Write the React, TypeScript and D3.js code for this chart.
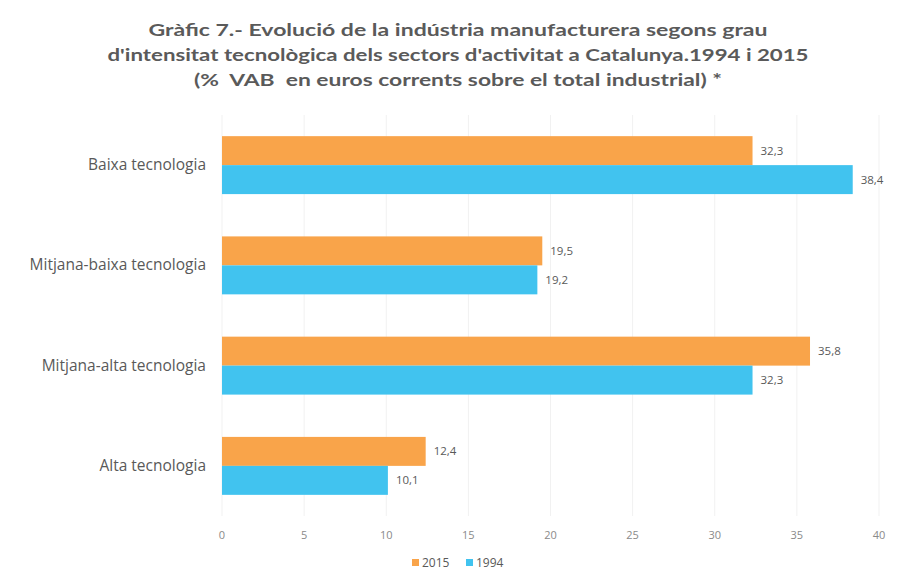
import { useEffect, useRef } from "react";
import * as d3 from "d3";

const titleLines = [
  "Gràfic 7.- Evolució de la indústria manufacturera segons grau",
  "d'intensitat tecnològica dels sectors d'activitat a Catalunya.1994 i 2015",
  "(%  VAB  en euros corrents sobre el total industrial) *",
];
const categories = [
  "Baixa tecnologia",
  "Mitjana-baixa tecnologia",
  "Mitjana-alta tecnologia",
  "Alta tecnologia",
];
const seriesNames = ["2015", "1994"];
const values2015 = [32.3, 19.5, 35.8, 12.4];
const values1994 = [38.4, 19.2, 32.3, 10.1];
const xTicks = [0, 5, 10, 15, 20, 25, 30, 35, 40];

const colors: Record<string, string> = { "2015": "#F9A44A", "1994": "#41C3EF" };
const font = "Lato, 'Open Sans', sans-serif";
const labelFont = "'Open Sans', sans-serif";

const App = () => {
  const svgRef = useRef<SVGSVGElement>(null);

  useEffect(() => {
    const svg = d3.select(svgRef.current);
    svg.selectAll("*").remove();

    const data = categories.map((c, i) => ({
      cat: c,
      vals: [
        { key: "2015", v: values2015[i] },
        { key: "1994", v: values1994[i] },
      ],
    }));

    const x = d3.scaleLinear().domain([0, 40]).range([222, 879]);
    const y0 = d3.scaleBand().domain(categories).range([115, 516]).padding(0);
    const y1 = d3
      .scaleBand()
      .domain(seriesNames)
      .range([0, y0.bandwidth()])
      .paddingInner(0)
      .paddingOuter(0.73);

    svg.append("rect").attr("width", 900).attr("height", 576).attr("fill", "#fff");

    // title
    const title = svg
      .append("text")
      .attr("text-anchor", "middle")
      .attr("font-family", font)
      .attr("font-weight", "bold")
      .attr("font-size", 17)
      .attr("fill", "#5a5a5a")
      .attr("xml:space", "preserve");
    const widths = [619, 701, 528];
    titleLines.forEach((t, i) => {
      title
        .append("tspan")
        .attr("x", 458)
        .attr("y", 36 + i * 25)
        .attr("textLength", widths[i])
        .attr("lengthAdjust", "spacingAndGlyphs")
        .text(t);
    });

    // grid
    svg
      .append("g")
      .selectAll("line")
      .data(xTicks)
      .enter()
      .append("line")
      .attr("x1", (d) => x(d))
      .attr("x2", (d) => x(d))
      .attr("y1", 115)
      .attr("y2", 516)
      .attr("stroke", "#f1f1f1")
      .attr("stroke-width", 1);

    // x tick labels
    svg
      .append("g")
      .selectAll("text")
      .data(xTicks)
      .enter()
      .append("text")
      .attr("x", (d) => x(d))
      .attr("y", 539)
      .attr("text-anchor", "middle")
      .attr("font-family", labelFont)
      .attr("font-size", 11)
      .attr("fill", "#8a8a8a")
      .text((d) => d);

    // category labels
    svg
      .append("g")
      .selectAll("text")
      .data(categories)
      .enter()
      .append("text")
      .attr("x", 206)
      .attr("y", (d) => y0(d)! + y0.bandwidth() / 2 + 5)
      .attr("text-anchor", "end")
      .attr("font-family", labelFont)
      .attr("font-size", 15.5)
      .attr("fill", "#595959")
      .text((d) => d);

    // bars
    const groups = svg
      .append("g")
      .selectAll("g")
      .data(data)
      .enter()
      .append("g")
      .attr("transform", (d) => `translate(0,${y0(d.cat)})`);

    groups
      .selectAll("rect")
      .data((d) => d.vals)
      .enter()
      .append("rect")
      .attr("x", x(0))
      .attr("y", (d) => y1(d.key)!)
      .attr("width", (d) => x(d.v) - x(0))
      .attr("height", y1.bandwidth())
      .attr("fill", (d) => colors[d.key]);

    groups
      .selectAll("text")
      .data((d) => d.vals)
      .enter()
      .append("text")
      .attr("x", (d) => x(d.v) + 8)
      .attr("y", (d) => y1(d.key)! + y1.bandwidth() / 2 + 4)
      .attr("font-family", labelFont)
      .attr("font-size", 11.5)
      .attr("fill", "#595959")
      .text((d) => d.v.toFixed(1).replace(".", ","));

    // legend
    const legend = svg.append("g").attr("transform", "translate(412,563)");
    const lx = [0, 54];
    seriesNames.forEach((s, i) => {
      legend
        .append("rect")
        .attr("x", lx[i])
        .attr("y", -4)
        .attr("width", 7)
        .attr("height", 7)
        .attr("fill", colors[s]);
      legend
        .append("text")
        .attr("x", lx[i] + 10)
        .attr("y", 4)
        .attr("font-family", labelFont)
        .attr("font-size", 12)
        .attr("fill", "#595959")
        .text(s);
    });
  }, []);

  return (
    <svg
      ref={svgRef}
      width={900}
      height={576}
      style={{ position: "absolute", left: 0, top: 0 }}
    ></svg>
  );
};

export default App;
